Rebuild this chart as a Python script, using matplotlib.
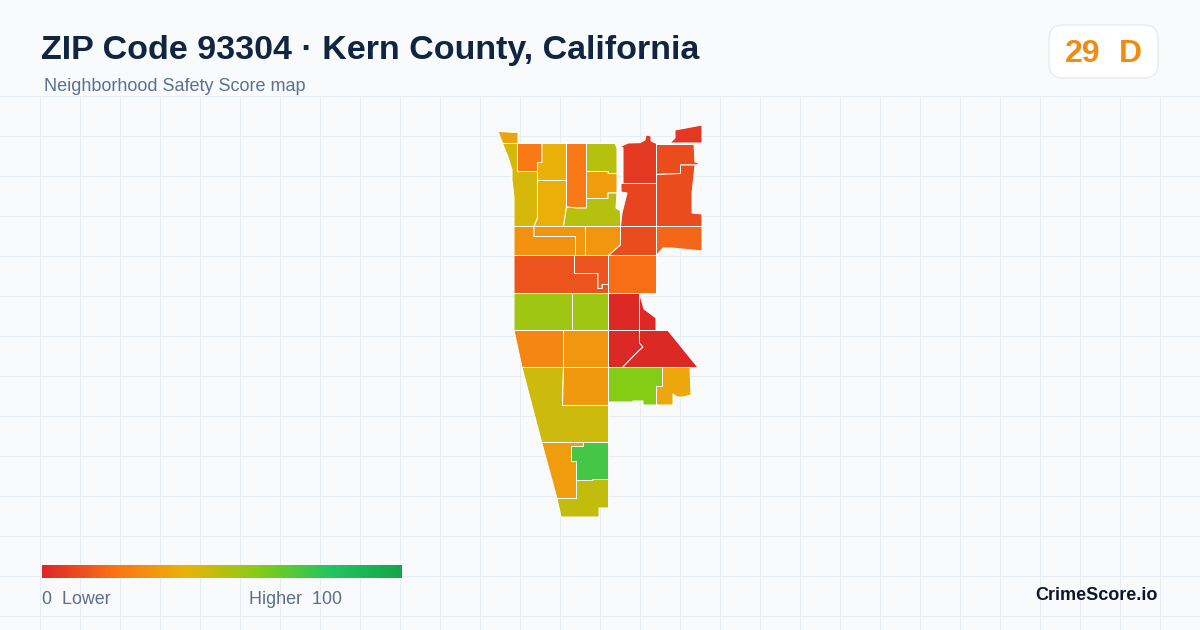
import numpy as np
import matplotlib
matplotlib.use("Agg")
import matplotlib.pyplot as plt
from matplotlib.collections import PolyCollection
from matplotlib.colors import LinearSegmentedColormap, Normalize
from matplotlib.cm import ScalarMappable
from matplotlib.patches import FancyBboxPatch

plt.rcParams['font.family'] = ['Liberation Sans', 'DejaVu Sans']

TITLE = "ZIP Code 93304 · Kern County, California"
SUBTITLE = "Neighborhood Safety Score map"
BRAND = "CrimeScore.io"
overall_score = "29"
overall_grade = "D"
legend_low = "0  Lower"
legend_high = "Higher  100"

# Colour scale of the score
scale_stops = [0, 20, 40, 60, 80, 100]
scale_colors = ["#dc2626", "#f97316", "#eab308", "#84cc16", "#22c55e", "#16a34a"]

# Safety score of each block group
tract_scores = [35, 44, 22, 39, 39, 22, 50, 33, 50, 30, 31, 31, 10, 17, 5, 10, 5, 10, 8,
                12, 12, 19, 55, 55, 1, 1, 26, 31, 1, 1, 46, 32, 60, 36, 33, 73, 48]

# Block group outlines in the map's projected plane
tract_outlines = [
    [(498,131.5),(518,132.5),(518,143.5),(503,144)],
    [(502.5,143.5),(517.5,143.5),(517.5,171.5),(537.5,171.5),(537.5,218),(534,226.5),(514,226.5),(514,197),(512,180),(512,170),(508,157)],
    [(517.5,143.5),(542,143.5),(542,162.5),(537.5,162.5),(537.5,171.5),(517.5,171.5)],
    [(542,143.5),(566.5,143.5),(566.5,180.5),(537.5,180.5),(537.5,162.5),(542,162.5)],
    [(537.5,180.5),(566.5,180.5),(566.5,207),(563.5,226.5),(534,226.5),(537.5,218)],
    [(566.5,143.5),(586.5,143.5),(586.5,208),(577,208),(566.5,207)],
    [(586.5,143.5),(615,143.5),(617,148),(617,173.5),(608,173.5),(608,171.5),(586.5,171.5)],
    [(586.5,171.5),(608,171.5),(608,173.5),(617,173.5),(617,193),(608,193),(608,198.5),(586.5,198.5)],
    [(586.5,198.5),(608,198.5),(608,193),(617,193),(616,208),(620.5,211),(620.5,226.5),(563.5,226.5),(566.5,207),(577,208),(586.5,208)],
    [(514,226.5),(534,226.5),(534,236.5),(575.5,236.5),(575.5,255.5),(514,255.5)],
    [(534,226.5),(585.5,226.5),(585.5,255.5),(575.5,255.5),(575.5,236.5),(534,236.5)],
    [(585.5,226.5),(620.5,226.5),(620.5,245),(608.5,255.5),(585.5,255.5)],
    [(620.5,226.5),(656.5,226.5),(656.5,255.5),(608.5,255.5),(620.5,245)],
    [(656.5,226.5),(702,226.5),(702,251),(672,248),(663,248),(656.5,255.5)],
    [(620.5,146.5),(628,143),(640,142.7),(645,140),(646,135),(651,136),(651,141),(656.5,143.5),(656.5,183.5),(623,183.5),(623,148)],
    [(656.5,144.5),(694,144.5),(695,162),(699,163),(697,165),(681,165),(681,173.5),(656.5,174.5)],
    [(675,130),(702,125),(702,143),(670,143),(675,138)],
    [(656.5,174.5),(680.5,173.5),(680.5,165),(695,165),(692,193),(692,213),(702,214),(702,226.5),(656.5,226.5)],
    [(621,183.5),(656.5,183.5),(656.5,226.5),(620.5,226.5),(622,213),(627,193),(621,192)],
    [(514,255.5),(574.5,255.5),(574.5,273.5),(598,273.5),(598,288.5),(602,288.5),(602,284.5),(608.5,284.5),(608.5,293.5),(514,293.5)],
    [(574.5,255.5),(608.5,255.5),(608.5,284.5),(602,284.5),(602,288.5),(598,288.5),(598,273.5),(574.5,273.5)],
    [(608.5,255.5),(656.5,255.5),(656.5,293.5),(608.5,293.5)],
    [(514,293.5),(572.5,293.5),(572.5,330.5),(514,330.5)],
    [(572.5,293.5),(608.5,293.5),(608.5,330.5),(572.5,330.5)],
    [(608.5,293.5),(639.5,293.5),(639.5,330.5),(608.5,330.5)],
    [(639.5,293.5),(644,309),(656,318),(656,330.5),(639.5,330.5)],
    [(514,330.5),(563.5,330.5),(563.5,367.5),(522,367.5)],
    [(563.5,330.5),(608.5,330.5),(608.5,367.5),(563.5,367.5)],
    [(608.5,330.5),(639.5,330.5),(639.5,343),(643,347),(636,353.5),(622.5,367.5),(608.5,367.5)],
    [(639.5,330.5),(668,330.5),(698,367.5),(622.5,367.5),(636,353.5),(643,347),(639.5,343)],
    [(522,367.5),(563.5,367.5),(562.5,405.5),(608.5,405.5),(608.5,442.5),(541.7,442.5)],
    [(563.5,367.5),(608.5,367.5),(608.5,405.5),(562.5,405.5)],
    [(608.5,367.5),(662.5,367.5),(662.5,386.5),(656.5,386.5),(656.5,405),(643,405),(643,401),(633,401),(633,402),(608.5,402)],
    [(662.5,367.5),(690,367.5),(691,395),(683,397),(677,397),(673,394),(673,405),(656.5,405),(656.5,386.5),(662.5,386.5)],
    [(541.7,442.5),(583.5,442.5),(583.5,446.5),(571.5,446.5),(571.5,461.5),(576.5,461.5),(576.5,498.5),(557,498.5)],
    [(583.5,442.5),(608.5,442.5),(608.5,479.5),(593,479.5),(593,480.5),(576.5,480.5),(576.5,461.5),(571.5,461.5),(571.5,446.5),(583.5,446.5)],
    [(576.5,480.5),(593,480.5),(593,479.5),(608.5,479.5),(608.5,508),(599,508),(599,517),(561,517),(557,498.5),(576.5,498.5)],
]

grid_x = np.arange(40, 1201, 40)
grid_y = np.arange(96, 630, 40)

BG = "#f8fafc"
GRID = "#e6eef4"
INK = "#0f2540"
MUTED = "#5b7190"
LEGEND_INK = "#5c6f87"
BADGE = "#f08c14"

cmap = LinearSegmentedColormap.from_list(
    "safety", [(s / 100, c) for s, c in zip(scale_stops, scale_colors)])
norm = Normalize(0, 100)

fig = plt.figure(figsize=(12, 6.3), dpi=100, facecolor=BG)
ax = fig.add_axes([0, 0, 1, 1])
ax.set_xlim(0, 1200)
ax.set_ylim(630, 0)
ax.axis("off")

v = ax.vlines(grid_x + 0.5, 96, 630, color=GRID, lw=0.72, zorder=1)
h = ax.hlines(grid_y + 0.5, 0, 1200, color=GRID, lw=0.72, zorder=1)
v.set_snap(False)
h.set_snap(False)

tracts = PolyCollection([np.array(p) for p in tract_outlines], array=np.array(tract_scores),
                        cmap=cmap, norm=norm, edgecolors="#ffffff", linewidths=0.72, zorder=2)
tracts.set_snap(False)
ax.add_collection(tracts)

ax.text(41, 51, TITLE, fontsize=24.5, fontweight="bold", color=INK, va="center", ha="left")
ax.text(44, 86.5, SUBTITLE, fontsize=12.95, color=MUTED, va="center", ha="left")

ax.add_patch(FancyBboxPatch((1049, 25), 109, 53, boxstyle="round,pad=0,rounding_size=14",
                            fc="#ffffff", ec="#e2e8f0", lw=0.8, zorder=3, mutation_aspect=1))
ax.text(1083, 54, overall_score, fontsize=23, fontweight="bold", color=BADGE, ha="center", va="center", zorder=4)
ax.text(1130, 54, overall_grade, fontsize=23, fontweight="bold", color=BADGE, ha="center", va="center", zorder=4)

cax = fig.add_axes([42 / 1200, 1 - 578 / 630, 360 / 1200, 13 / 630])
cb = fig.colorbar(ScalarMappable(norm=norm, cmap=cmap), cax=cax, orientation="horizontal")
cb.set_ticks([])
cb.outline.set_visible(False)

ax.text(42, 599, legend_low, fontsize=12.9, color=LEGEND_INK, ha="left", va="center")
ax.text(249, 599, legend_high, fontsize=12.9, color=LEGEND_INK, ha="left", va="center")
ax.text(1158, 595, BRAND, fontsize=13, fontweight="bold", color="#0f172a", ha="right", va="center")

fig.savefig("out.png", dpi=100, facecolor=BG)
